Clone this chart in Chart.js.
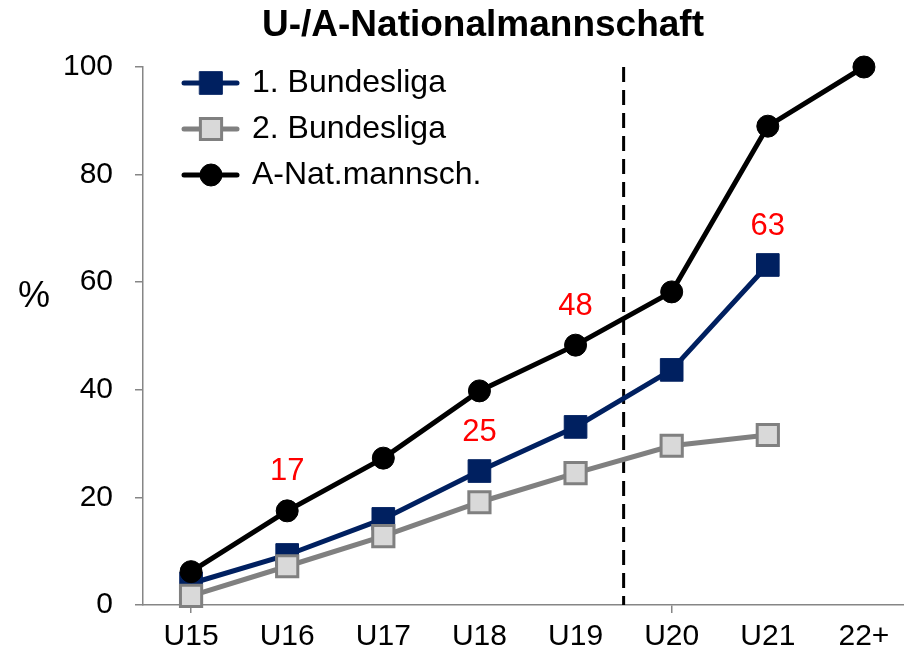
<!DOCTYPE html>
<html>
<head>
<meta charset="utf-8">
<script src="https://cdn.jsdelivr.net/npm/chart.js@4"></script>
<style>
  html, body { margin: 0; padding: 0; background: #fff; overflow: hidden; }
  canvas { display: block; }
</style>
</head>
<body>
<canvas id="chart" width="930" height="655"></canvas>
<script>
const ageGroups = ["U15", "U16", "U17", "U18", "U19", "U20", "U21", "22+"];
const liga1 = [4, 9.3, 16, 24.9, 33.1, 43.7, 63.2, null];
const liga2 = [1.7, 7.2, 12.8, 19.1, 24.5, 29.6, 31.6, null];
const natTeam = [6.2, 17.5, 27.3, 39.8, 48.3, 58.2, 89, 100];
const seriesNames = ["1. Bundesliga", "2. Bundesliga", "A-Nat.mannsch."];
const yTicks = [0, 20, 40, 60, 80, 100];
// red notes: [dataset, category, text]
const notes = [[2, 1, "17"], [0, 3, "25"], [2, 4, "48"], [0, 6, "63"]];
const splitAfter = 4; // dashed line between U19 and U20

const FONT = "'Liberation Sans', Arial, sans-serif";
const AXIS = "#868686";

const extras = {
  id: "extras",
  beforeDatasetsDraw(chart) {
    const { ctx, chartArea: a, scales: { x } } = chart;
    const px = (x.getPixelForValue(splitAfter) + x.getPixelForValue(splitAfter + 1)) / 2;
    ctx.save();
    ctx.strokeStyle = "#000";
    ctx.lineWidth = 3;
    ctx.setLineDash([15, 8]);
    ctx.beginPath();
    ctx.moveTo(px, a.top);
    ctx.lineTo(px, a.bottom);
    ctx.stroke();
    ctx.restore();
  },
  afterDatasetsDraw(chart) {
    const ctx = chart.ctx;
    ctx.save();
    ctx.font = "31px " + FONT;
    ctx.fillStyle = "#ff0000";
    ctx.textAlign = "center";
    ctx.textBaseline = "middle";
    notes.forEach(([d, i, t]) => {
      const p = chart.getDatasetMeta(d).data[i];
      ctx.fillText(t, p.x, p.y - 39);
    });
    ctx.restore();
  },
  afterDraw(chart) {
    const ctx = chart.ctx;
    ctx.save();
    ctx.fillStyle = "#000";
    ctx.textBaseline = "middle";
    ctx.textAlign = "center";
    ctx.font = "bold 37px " + FONT;
    ctx.fillText("U-/A-Nationalmannschaft", 483, 26);
    ctx.font = "36px " + FONT;
    ctx.fillText("%", 34, 297);
    // legend
    ctx.textAlign = "left";
    chart.data.datasets.forEach((ds, k) => {
      const y = 83 + 46 * k;
      ctx.strokeStyle = ds.borderColor;
      ctx.lineWidth = 5;
      ctx.lineCap = "round";
      ctx.beginPath();
      ctx.moveTo(184, y);
      ctx.lineTo(237, y);
      ctx.stroke();
      ctx.fillStyle = ds.pointBackgroundColor;
      ctx.strokeStyle = ds.pointBorderColor;
      ctx.lineWidth = ds.pointBorderWidth;
      ctx.beginPath();
      if (ds.pointStyle === "circle") {
        ctx.arc(211, y, ds.pointRadius, 0, Math.PI * 2);
      } else {
        const h = ds.pointRadius * Math.SQRT1_2;
        ctx.rect(211 - h, y - h, 2 * h, 2 * h);
      }
      ctx.fill();
      ctx.stroke();
      ctx.fillStyle = "#000";
      ctx.font = "32px " + FONT;
      ctx.fillText(seriesNames[k], 252, y);
    });
    ctx.restore();
  }
};

new Chart(document.getElementById("chart"), {
  type: "line",
  data: {
    labels: ageGroups,
    datasets: [
      {
        label: seriesNames[0],
        data: liga1,
        borderColor: "#002060",
        borderWidth: 5,
        pointStyle: "rect",
        pointRadius: 16,
        pointBackgroundColor: "#002060",
        pointBorderColor: "#002060",
        pointBorderWidth: 1,
        clip: false,
        order: 3
      },
      {
        label: seriesNames[1],
        data: liga2,
        borderColor: "#808080",
        borderWidth: 5,
        pointStyle: "rect",
        pointRadius: 15,
        pointBackgroundColor: "#d9d9d9",
        pointBorderColor: "#808080",
        pointBorderWidth: 3,
        clip: false,
        order: 2
      },
      {
        label: seriesNames[2],
        data: natTeam,
        borderColor: "#000000",
        borderWidth: 5,
        pointStyle: "circle",
        pointRadius: 11,
        pointBackgroundColor: "#000000",
        pointBorderColor: "#000000",
        pointBorderWidth: 1,
        clip: false,
        order: 1
      }
    ]
  },
  options: {
    responsive: false,
    animation: false,
    layout: { padding: { top: 67, left: 0, right: 0, bottom: 0 } },
    elements: { line: { tension: 0 } },
    plugins: {
      legend: { display: false },
      title: { display: false },
      tooltip: { enabled: false }
    },
    scales: {
      x: {
        offset: true,
        afterFit: s => { s.height = 50; },
        border: { color: AXIS, width: 1.5 },
        grid: {
          drawOnChartArea: false,
          tickLength: 8,
          lineWidth: 1.5,
          color: c => (c.index === 0 || c.index === splitAfter + 1) ? AXIS : "rgba(0,0,0,0)"
        },
        ticks: { color: "#000", padding: 6, font: { family: FONT, size: 30 } }
      },
      y: {
        min: 0,
        max: 100,
        afterFit: s => { s.width = 143; },
        afterBuildTicks: s => { s.ticks = yTicks.map(v => ({ value: v })); },
        border: { color: AXIS, width: 1.5 },
        grid: { drawOnChartArea: false, tickLength: 8, lineWidth: 1.5, color: AXIS },
        ticks: { color: "#000", padding: 22, font: { family: FONT, size: 30 } }
      }
    }
  },
  plugins: [extras]
});
</script>
</body>
</html>
